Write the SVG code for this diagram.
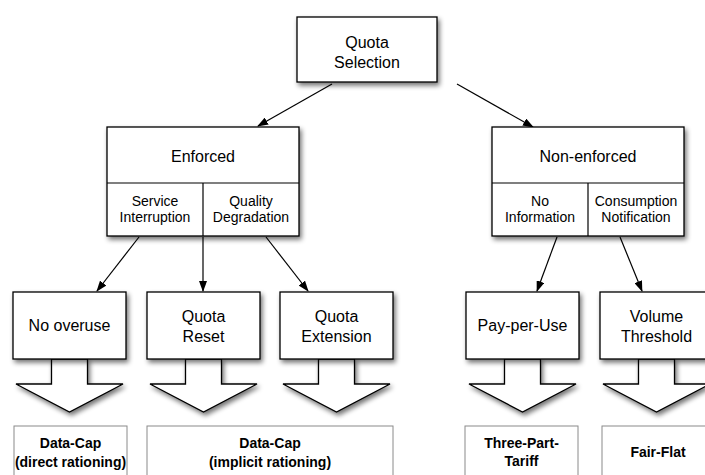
<svg xmlns="http://www.w3.org/2000/svg" width="705" height="475" viewBox="0 0 705 475">
<defs>
  <filter id="shadow" x="-20%" y="-20%" width="150%" height="150%">
    <feGaussianBlur in="SourceAlpha" stdDeviation="2.5"/>
    <feOffset dx="2" dy="3" result="b"/>
    <feComponentTransfer><feFuncA type="linear" slope="0.55"/></feComponentTransfer>
    <feMerge><feMergeNode/><feMergeNode in="SourceGraphic"/></feMerge>
  </filter>
  <marker id="ah" markerUnits="userSpaceOnUse" markerWidth="11" markerHeight="8" refX="10" refY="4" orient="auto">
    <path d="M0,0 L11,4 L0,8 z" fill="#000"/>
  </marker>
</defs>
<style>
  .box { fill:#fff; stroke:#000; stroke-width:1.3; }
  .div { stroke:#000; stroke-width:1.2; fill:none; }
  .blk { fill:#fff; stroke:#000; stroke-width:1.3; stroke-linejoin:miter; }
  .lab { fill:#fff; stroke:#8a8a8a; stroke-width:1; }
  .t16 { font-family:"Liberation Sans", Arial, sans-serif; font-size:16px; fill:#000; text-anchor:middle; }
  .t14 { font-family:"Liberation Sans", Arial, sans-serif; font-size:14px; fill:#000; text-anchor:middle; }
  .tb { font-family:"Liberation Sans", Arial, sans-serif; font-size:14px; font-weight:bold; fill:#000; text-anchor:middle; }
  .con { stroke:#000; stroke-width:1.2; fill:none; marker-end:url(#ah); }
</style>
<rect width="705" height="475" fill="#fff"/>

<g id="connectors">
  <line class="con" x1="332" y1="84" x2="258" y2="126"/>
  <line class="con" x1="457" y1="84" x2="533" y2="127"/>
  <line class="con" x1="139" y1="237" x2="97" y2="291"/>
  <line class="con" x1="203" y1="237" x2="203" y2="291"/>
  <line class="con" x1="266" y1="237" x2="308" y2="291"/>
  <line class="con" x1="557" y1="237" x2="537" y2="291"/>
  <line class="con" x1="620" y1="237" x2="642" y2="291"/>
</g>

<g id="quota-selection">
  <rect class="box" x="297" y="17" width="140" height="65" filter="url(#shadow)"/>
  <text class="t16" x="367" y="48">Quota</text>
  <text class="t16" x="367" y="68">Selection</text>
</g>

<g id="enforced">
  <rect class="box" x="107" y="127" width="192" height="109" filter="url(#shadow)"/>
  <line class="div" x1="107" y1="183" x2="299" y2="183"/>
  <line class="div" x1="203" y1="183" x2="203" y2="236"/>
  <text class="t16" x="203" y="162">Enforced</text>
  <text class="t14" x="155" y="206">Service</text>
  <text class="t14" x="155" y="222">Interruption</text>
  <text class="t14" x="251" y="206">Quality</text>
  <text class="t14" x="251" y="222">Degradation</text>
</g>

<g id="non-enforced">
  <rect class="box" x="492" y="127" width="192" height="109" filter="url(#shadow)"/>
  <line class="div" x1="492" y1="183" x2="684" y2="183"/>
  <line class="div" x1="588" y1="183" x2="588" y2="236"/>
  <text class="t16" x="588" y="162">Non-enforced</text>
  <text class="t14" x="540" y="206">No</text>
  <text class="t14" x="540" y="222">Information</text>
  <text class="t14" x="636" y="206">Consumption</text>
  <text class="t14" x="636" y="222">Notification</text>
</g>

<g id="no-overuse">
  <path class="blk" d="M51.5,359 L87.5,359 L87.5,384 L123,384 L69.5,412 L16,384 L51.5,384 Z" filter="url(#shadow)"/>
  <rect class="box" x="13" y="292" width="113" height="67" filter="url(#shadow)"/>
  <text class="t16" x="69.5" y="331">No overuse</text>
</g>

<g id="quota-reset">
  <path class="blk" d="M185.5,359 L221.5,359 L221.5,384 L257,384 L203.5,412 L150,384 L185.5,384 Z" filter="url(#shadow)"/>
  <rect class="box" x="147" y="292" width="113" height="67" filter="url(#shadow)"/>
  <text class="t16" x="203.5" y="322">Quota</text>
  <text class="t16" x="203.5" y="342">Reset</text>
</g>

<g id="quota-extension">
  <path class="blk" d="M318.5,359 L354.5,359 L354.5,384 L390,384 L336.5,412 L283,384 L318.5,384 Z" filter="url(#shadow)"/>
  <rect class="box" x="280" y="292" width="113" height="67" filter="url(#shadow)"/>
  <text class="t16" x="336.5" y="322">Quota</text>
  <text class="t16" x="336.5" y="342">Extension</text>
</g>

<g id="pay-per-use">
  <path class="blk" d="M504.5,359 L540.5,359 L540.5,384 L576,384 L522.5,412 L469,384 L504.5,384 Z" filter="url(#shadow)"/>
  <rect class="box" x="466" y="292" width="113" height="67" filter="url(#shadow)"/>
  <text class="t16" x="522.5" y="331">Pay-per-Use</text>
</g>

<g id="volume-threshold">
  <path class="blk" d="M638.5,359 L674.5,359 L674.5,384 L710,384 L656.5,412 L603,384 L638.5,384 Z" filter="url(#shadow)"/>
  <rect class="box" x="600" y="292" width="113" height="67" filter="url(#shadow)"/>
  <text class="t16" x="656.5" y="322">Volume</text>
  <text class="t16" x="656.5" y="342">Threshold</text>
</g>

<g id="data-cap-direct">
  <rect class="lab" x="14" y="426" width="113" height="60"/>
  <text class="tb" x="70.5" y="448">Data-Cap</text>
  <text class="tb" x="70.5" y="467">(direct rationing)</text>
</g>

<g id="data-cap-implicit">
  <rect class="lab" x="147" y="426" width="246" height="60"/>
  <text class="tb" x="270" y="448">Data-Cap</text>
  <text class="tb" x="270" y="467">(implicit rationing)</text>
</g>

<g id="three-part-tariff">
  <rect class="lab" x="465" y="426" width="113" height="60"/>
  <text class="tb" x="521.5" y="448">Three-Part-</text>
  <text class="tb" x="521.5" y="466">Tariff</text>
</g>

<g id="fair-flat">
  <rect class="lab" x="602" y="426" width="113" height="60"/>
  <text class="tb" x="658" y="457">Fair-Flat</text>
</g>
</svg>
